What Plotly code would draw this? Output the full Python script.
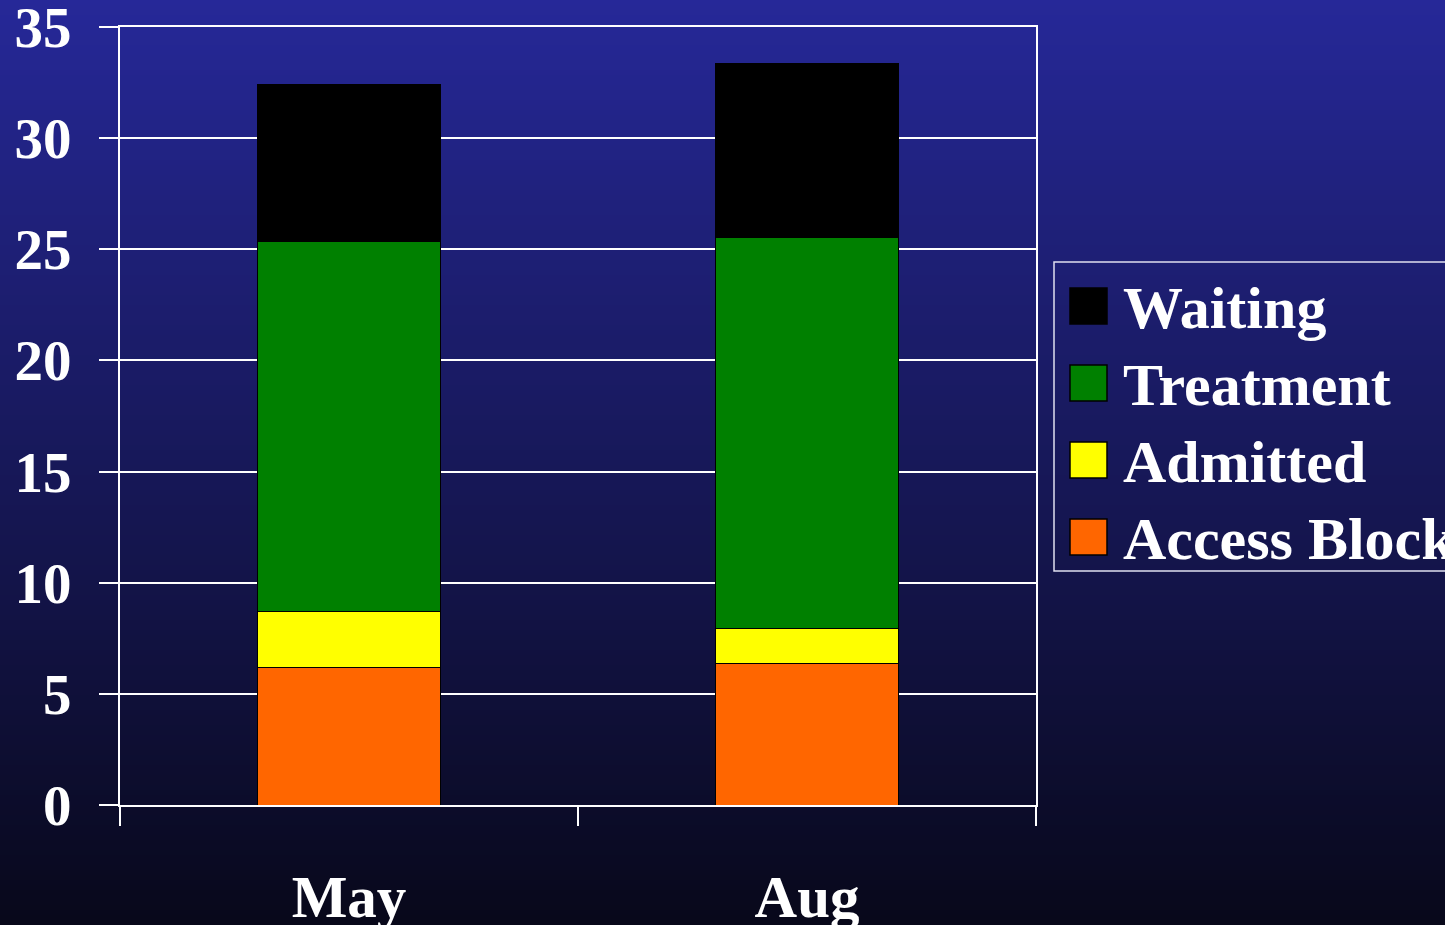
import plotly.graph_objects as go

months = ["May", "Aug"]
series_names = ["Access Block", "Admitted", "Treatment", "Waiting"]
access_block = [6.2, 6.35]
admitted = [2.5, 1.6]
treatment = [16.65, 17.6]
waiting = [7.05, 7.8]
y_ticks = [0, 5, 10, 15, 20, 25, 30, 35]

colors = {"Access Block": "#FF6600", "Admitted": "#FFFF00",
          "Treatment": "#008000", "Waiting": "#000000"}
values = {"Access Block": access_block, "Admitted": admitted,
          "Treatment": treatment, "Waiting": waiting}

W, H = 1445, 925
L, R, T, B = 120, 409, 27, 120
pw, ph = W - L - R, H - T - B

def px_x(x):
    return (x - L) / pw

def px_y(y):
    return (H - B - y) / ph

FONT = "Liberation Serif"

fig = go.Figure()
for name in series_names:
    fig.add_trace(go.Bar(x=months, y=values[name], name=name,
                         marker=dict(color=colors[name], line=dict(color="#000000", width=1)),
                         showlegend=False))

shapes = []
# vertical gradient background
N = 185
top = (38, 40, 152)
bot = (8, 8, 26)
for i in range(N):
    y0 = i * H / N
    y1 = (i + 1) * H / N + 0.6
    t = (i + 0.5) / N
    c = tuple(round(top[k] + (bot[k] - top[k]) * t) for k in range(3))
    shapes.append(dict(type="rect", xref="paper", yref="paper", layer="below",
                       x0=px_x(-2), x1=px_x(W + 2), y0=px_y(y1), y1=px_y(y0),
                       line=dict(width=0), fillcolor="rgb(%d,%d,%d)" % c))

# manual legend
shapes.append(dict(type="rect", xref="paper", yref="paper", layer="above",
                   x0=px_x(1054), x1=px_x(1452), y0=px_y(571), y1=px_y(262),
                   line=dict(color="#E0E0F0", width=1.5), fillcolor="rgba(0,0,0,0)"))
annotations = []
legend_order = ["Waiting", "Treatment", "Admitted", "Access Block"]
for i, name in enumerate(legend_order):
    cy = 306 + i * 77
    shapes.append(dict(type="rect", xref="paper", yref="paper", layer="above",
                       x0=px_x(1070), x1=px_x(1107), y0=px_y(cy + 18), y1=px_y(cy - 18),
                       line=dict(color="#000000", width=1.5), fillcolor=colors[name]))
    annotations.append(dict(xref="paper", yref="paper", x=px_x(1121), y=px_y(cy + 2),
                            xanchor="left", yanchor="middle", showarrow=False, text=name,
                            font=dict(family=FONT, size=60, color="white", weight="bold")))

fig.update_layout(
    width=W, height=H,
    margin=dict(l=L, r=R, t=T, b=B, pad=0, autoexpand=False),
    barmode="stack", bargap=0.6,
    paper_bgcolor="#08081a", plot_bgcolor="rgba(0,0,0,0)",
    shapes=shapes, annotations=annotations,
    showlegend=False,
)
fig.update_xaxes(type="category", range=[-0.5, 1.5], showline=True, linecolor="white",
                 linewidth=2, mirror=True, ticks="outside", tickson="boundaries",
                 ticklen=19, tickcolor="white", tickwidth=1.5, showgrid=False,
                 ticklabelstandoff=39, automargin=False, ticklabeloverflow="allow",
                 tickfont=dict(family=FONT, size=59, color="white", weight="bold"))
fig.update_yaxes(range=[0, 35], tickvals=y_ticks, showline=True, linecolor="white",
                 linewidth=2, mirror=True, ticks="outside", ticklen=19,
                 tickcolor="white", tickwidth=1.5, showgrid=True, gridcolor="white",
                 gridwidth=1.5, zeroline=False, ticklabelstandoff=16,
                 automargin=False, ticklabeloverflow="allow",
                 tickfont=dict(family=FONT, size=57, color="white", weight="bold"))

fig.write_html("out.html")
